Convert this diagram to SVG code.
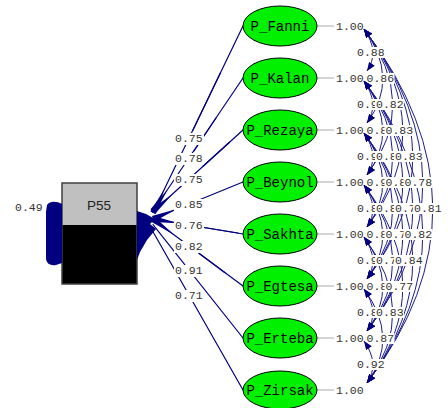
<svg xmlns="http://www.w3.org/2000/svg" xmlns:xlink="http://www.w3.org/1999/xlink" width="448" height="408" viewBox="0 0 448 408">
<style>
.num{font-family:"Liberation Mono","DejaVu Sans Mono",monospace;font-size:11.5px;fill:#333}
.lat{fill:#00f000;stroke:#000;stroke-width:1}
.latt{font-family:"Liberation Mono","DejaVu Sans Mono",monospace;font-size:14px;fill:#000;text-anchor:middle}
.ld{stroke:#000080;stroke-width:1.2;fill:none;stroke-linecap:round}
.bg{fill:#fff}
.nav{fill:#000080}
</style>
<defs>
<marker id="ah" viewBox="0 0 10 8" refX="10" refY="4" markerWidth="9" markerHeight="7" orient="auto-start-reverse" markerUnits="userSpaceOnUse"><path d="M0,0 L10,4 L0,8 z" fill="#000080"/></marker>
<g id="corr-arcs">
<path d="M364,29 Q380,52 367,71"/>
<path d="M364,29 Q400,78 367,123"/>
<path d="M364,29 Q420,104 367,175"/>
<path d="M364,29 Q440,130 367,227"/>
<path d="M364,29 Q460,156 367,279"/>
<path d="M364,29 Q480,182 367,331"/>
<path d="M364,29 Q500,208 367,383"/>
<path d="M364,81 Q380,104 367,123"/>
<path d="M364,81 Q400,130 367,175"/>
<path d="M364,81 Q420,156 367,227"/>
<path d="M364,81 Q440,182 367,279"/>
<path d="M364,81 Q460,208 367,331"/>
<path d="M364,81 Q480,234 367,383"/>
<path d="M364,133 Q380,156 367,175"/>
<path d="M364,133 Q400,182 367,227"/>
<path d="M364,133 Q420,208 367,279"/>
<path d="M364,133 Q440,234 367,331"/>
<path d="M364,133 Q460,260 367,383"/>
<path d="M364,185 Q380,208 367,227"/>
<path d="M364,185 Q400,234 367,279"/>
<path d="M364,185 Q420,260 367,331"/>
<path d="M364,185 Q440,286 367,383"/>
<path d="M364,237 Q380,260 367,279"/>
<path d="M364,237 Q400,286 367,331"/>
<path d="M364,237 Q420,312 367,383"/>
<path d="M364,289 Q380,312 367,331"/>
<path d="M364,289 Q400,338 367,383"/>
<path d="M364,341 Q380,364 367,383"/>
</g>
</defs>
<rect width="448" height="408" fill="#fff"/>

<g id="P55">
<rect x="62" y="183" width="75" height="42" fill="#c0c0c0"/>
<rect x="62" y="225" width="75" height="59" fill="#000"/>
<rect x="62" y="183" width="75" height="101" fill="none" stroke="#404040" stroke-width="1.5"/>
<text x="99" y="210" font-family="'Liberation Sans',Arial,sans-serif" font-size="13.5" fill="#222" text-anchor="middle">P55</text>
</g>

<g id="connectors">
<path class="nav" d="M62,204 C56,201 50,201 47,205 L46,212 L46,258 C46,263 50,266 56,265 L62,263 Z"/>
<text class="num" x="15" y="211">0.49</text>
<path class="nav" d="M137,211 L146,214 L155,219 L150,224 L156,229 L147,240 L140,252 L137,260 Z"/>
<polygon class="nav" points="155.7,214 150.3,211.4 164.3,189.3"/>
<polygon class="nav" points="155.5,212.7 150.5,209.3 167.6,189.5"/>
<polygon class="nav" points="155,213.9 151,209.5 172.3,194.2"/>
<polygon class="nav" points="154.1,221.5 151.9,215.9 177.1,208.9"/>
<polygon class="nav" points="152.5,222 153.5,216 178.7,223.3"/>
<polygon class="nav" points="151.2,221.7 154.8,216.9 173.9,234.8"/>
<line class="ld" x1="153" y1="212.7" x2="243" y2="26"/>
<line class="ld" x1="153" y1="211" x2="243" y2="78"/>
<line class="ld" x1="153" y1="211.7" x2="243" y2="130"/>
<line class="ld" x1="153" y1="218.7" x2="243" y2="182"/>
<line class="ld" x1="153" y1="219" x2="243" y2="234"/>
<line class="ld" x1="153" y1="219.3" x2="243" y2="286"/>
<line class="ld" x1="153" y1="224.7" x2="243" y2="338"/>
<line class="ld" x1="153" y1="231.7" x2="243" y2="390"/>
<line class="ld" x1="193" y1="130" x2="220.5" y2="72.7" stroke-width="2.8"/>
<line class="ld" x1="194" y1="151" x2="216" y2="118" stroke-width="2.2"/>
<line class="ld" x1="203" y1="166.3" x2="229.5" y2="142.3" stroke-width="3"/>
<line class="ld" x1="204" y1="227.5" x2="238" y2="233" stroke-width="3.2"/>
<line class="ld" x1="200" y1="254" x2="225" y2="272.7" stroke-width="3.2"/>
<g>
<rect class="bg" x="174" y="133" width="30" height="12"/><text class="num" x="175" y="142">0.75</text>
<rect class="bg" x="174" y="153" width="30" height="12"/><text class="num" x="175" y="162">0.78</text>
<rect class="bg" x="174" y="174" width="30" height="12"/><text class="num" x="175" y="183">0.75</text>
<rect class="bg" x="174" y="199" width="30" height="12"/><text class="num" x="175" y="208">0.85</text>
<rect class="bg" x="174" y="220" width="30" height="12"/><text class="num" x="175" y="229">0.76</text>
<rect class="bg" x="174" y="241" width="30" height="12"/><text class="num" x="175" y="250">0.82</text>
<rect class="bg" x="174" y="265" width="30" height="12"/><text class="num" x="175" y="274">0.91</text>
<rect class="bg" x="174" y="290" width="30" height="12"/><text class="num" x="175" y="299">0.71</text>
</g>
<g stroke="#aaa" stroke-width="1">
<line x1="317" y1="26" x2="334" y2="26"/>
<line x1="317" y1="78" x2="334" y2="78"/>
<line x1="317" y1="130" x2="334" y2="130"/>
<line x1="317" y1="182" x2="334" y2="182"/>
<line x1="317" y1="234" x2="334" y2="234"/>
<line x1="317" y1="286" x2="334" y2="286"/>
<line x1="317" y1="338" x2="334" y2="338"/>
<line x1="317" y1="390" x2="334" y2="390"/>
</g>
<use xlink:href="#corr-arcs" href="#corr-arcs" fill="none" stroke="#1c1c90" stroke-width="1"/>
<g>
<text class="num" x="336" y="30">1.00</text>
<text class="num" x="336" y="82">1.00</text>
<text class="num" x="336" y="134">1.00</text>
<text class="num" x="336" y="186">1.00</text>
<text class="num" x="336" y="238">1.00</text>
<text class="num" x="336" y="290">1.00</text>
<text class="num" x="336" y="342">1.00</text>
<text class="num" x="336" y="394">1.00</text>
</g>
<g>
<rect class="bg" x="356" y="47" width="29" height="11"/><text class="num" x="357" y="56">0.88</text>
<rect class="bg" x="356" y="99" width="29" height="11"/><text class="num" x="357" y="108">0.90</text>
<rect class="bg" x="356" y="151" width="29" height="11"/><text class="num" x="357" y="160">0.90</text>
<rect class="bg" x="356" y="203" width="29" height="11"/><text class="num" x="357" y="212">0.88</text>
<rect class="bg" x="356" y="255" width="29" height="11"/><text class="num" x="357" y="264">0.90</text>
<rect class="bg" x="356" y="307" width="29" height="11"/><text class="num" x="357" y="316">0.80</text>
<rect class="bg" x="356" y="359" width="29" height="11"/><text class="num" x="357" y="368">0.92</text>
<rect class="bg" x="365.5" y="73" width="29" height="11"/><text class="num" x="366.5" y="82">0.86</text>
<rect class="bg" x="365.5" y="125" width="29" height="11"/><text class="num" x="366.5" y="134">0.85</text>
<rect class="bg" x="365.5" y="177" width="29" height="11"/><text class="num" x="366.5" y="186">0.90</text>
<rect class="bg" x="365.5" y="229" width="29" height="11"/><text class="num" x="366.5" y="238">0.80</text>
<rect class="bg" x="365.5" y="281" width="29" height="11"/><text class="num" x="366.5" y="290">0.80</text>
<rect class="bg" x="365.5" y="333" width="29" height="11"/><text class="num" x="366.5" y="342">0.87</text>
<rect class="bg" x="375" y="99" width="29" height="11"/><text class="num" x="376" y="108">0.82</text>
<rect class="bg" x="375" y="151" width="29" height="11"/><text class="num" x="376" y="160">0.80</text>
<rect class="bg" x="375" y="203" width="29" height="11"/><text class="num" x="376" y="212">0.80</text>
<rect class="bg" x="375" y="255" width="29" height="11"/><text class="num" x="376" y="264">0.79</text>
<rect class="bg" x="375" y="307" width="29" height="11"/><text class="num" x="376" y="316">0.83</text>
<rect class="bg" x="384.5" y="125" width="29" height="11"/><text class="num" x="385.5" y="134">0.83</text>
<rect class="bg" x="384.5" y="177" width="29" height="11"/><text class="num" x="385.5" y="186">0.80</text>
<rect class="bg" x="384.5" y="229" width="29" height="11"/><text class="num" x="385.5" y="238">0.79</text>
<rect class="bg" x="384.5" y="281" width="29" height="11"/><text class="num" x="385.5" y="290">0.77</text>
<rect class="bg" x="394" y="151" width="29" height="11"/><text class="num" x="395" y="160">0.83</text>
<rect class="bg" x="394" y="203" width="29" height="11"/><text class="num" x="395" y="212">0.79</text>
<rect class="bg" x="394" y="255" width="29" height="11"/><text class="num" x="395" y="264">0.84</text>
<rect class="bg" x="403.5" y="177" width="29" height="11"/><text class="num" x="404.5" y="186">0.78</text>
<rect class="bg" x="403.5" y="229" width="29" height="11"/><text class="num" x="404.5" y="238">0.82</text>
<rect class="bg" x="413" y="203" width="29" height="11"/><text class="num" x="414" y="212">0.81</text>
</g>
<use xlink:href="#corr-arcs" href="#corr-arcs" fill="none" stroke="none" marker-start="url(#ah)" marker-end="url(#ah)"/>
</g>

<g id="P_Fanni"><ellipse class="lat" cx="280" cy="26" rx="37" ry="20"/><text class="latt" x="280" y="30.5">P_Fanni</text></g>
<g id="P_Kalan"><ellipse class="lat" cx="280" cy="78" rx="37" ry="20"/><text class="latt" x="280" y="82.5">P_Kalan</text></g>
<g id="P_Rezaya"><ellipse class="lat" cx="280" cy="130" rx="37" ry="20"/><text class="latt" x="280" y="134.5">P_Rezaya</text></g>
<g id="P_Beynol"><ellipse class="lat" cx="280" cy="182" rx="37" ry="20"/><text class="latt" x="280" y="186.5">P_Beynol</text></g>
<g id="P_Sakhta"><ellipse class="lat" cx="280" cy="234" rx="37" ry="20"/><text class="latt" x="280" y="238.5">P_Sakhta</text></g>
<g id="P_Egtesa"><ellipse class="lat" cx="280" cy="286" rx="37" ry="20"/><text class="latt" x="280" y="290.5">P_Egtesa</text></g>
<g id="P_Erteba"><ellipse class="lat" cx="280" cy="338" rx="37" ry="20"/><text class="latt" x="280" y="342.5">P_Erteba</text></g>
<g id="P_Zirsak"><ellipse class="lat" cx="280" cy="390" rx="37" ry="19"/><text class="latt" x="280" y="394.5">P_Zirsak</text></g>
</svg>
